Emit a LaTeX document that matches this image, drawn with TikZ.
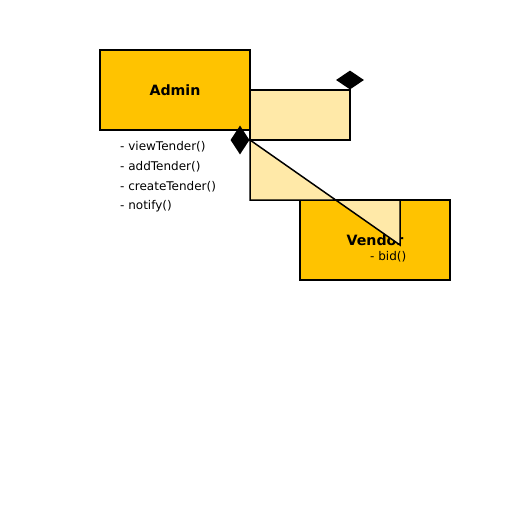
\documentclass[tikz,border=0pt]{standalone}
\usepackage{fontspec}
\setmainfont{DejaVu Sans}
\usetikzlibrary{shapes.geometric}
\definecolor{classfill}{RGB}{255,195,0}
\definecolor{lightfill}{RGB}{255,233,168}
\begin{document}
\begin{tikzpicture}[x=1pt,y=-1pt,
  classbox/.style={draw=black,line width=1.5pt,fill=classfill,rectangle,inner sep=0pt,
    minimum width=150pt,minimum height=80pt,font=\fontsize{14.2}{16}\selectfont\bfseries},
  lightbox/.style={draw=black,line width=1.5pt,fill=lightfill,line join=miter},
  method/.style={anchor=west,inner sep=0pt,font=\fontsize{12}{14}\selectfont},
  dia/.style={diamond,fill=black,draw=none,inner sep=0pt}]
\useasboundingbox (0,0) rectangle (512,512);
\node[classbox] (admin) at (175,90) {Admin};
\node[draw=black,line width=1.5pt,fill=lightfill,rectangle,inner sep=0pt,
  minimum width=100pt,minimum height=50pt] (assoc) at (300,115) {};
\node[dia,minimum width=28pt,minimum height=19pt] (d1) at (350,80) {};
\node[method] (m1) at (120,146.5) {- viewTender()};
\node[method] (m2) at (120,166.5) {- addTender()};
\node[method] (m3) at (120,186.5) {- createTender()};
\node[method] (m4) at (120,206.5) {- notify()};
\node[classbox] (vendor) at (375,240) {Vendor};
\node[method] (bid) at (370,256.5) {- bid()};
\coordinate (p1) at (250,140);
\coordinate (p2) at (400,245);
\coordinate (p3) at (400,200);
\coordinate (p4) at (250,200);
\draw[lightbox] (p1) -- (p2) -- (p3) -- (p4) -- cycle;
\node[dia,minimum width=19pt,minimum height=29pt] (d2) at (240,140) {};
\end{tikzpicture}
\end{document}
